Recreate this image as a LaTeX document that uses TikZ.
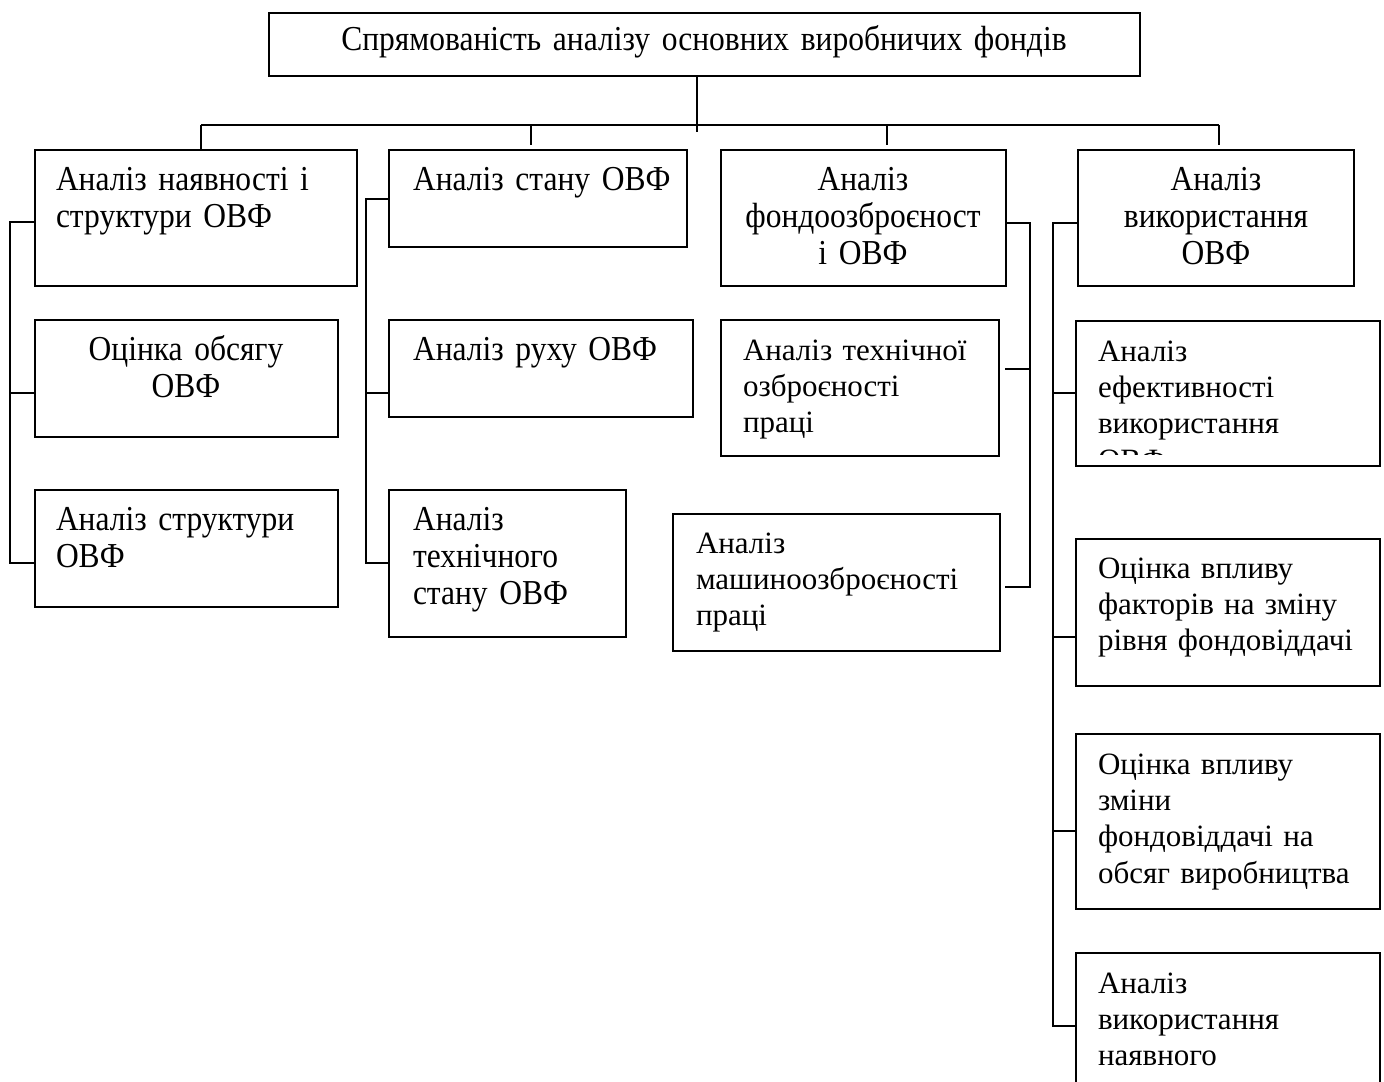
\documentclass[tikz,border=0pt]{standalone}
\usepackage{fontspec}
\setmainfont{Liberation Serif}
\newfontfamily\tallfont[FakeStretch=0.9]{Liberation Serif}
\usetikzlibrary{fit}
\tikzset{
    box/.style={draw, inner sep=0pt},
    tallleft/.style={font=\tallfont\fontsize{17.5}{18.5}\selectfont, inner sep=0pt, anchor=base west, text width=170pt, align=left},
    tallmid/.style={font=\tallfont\fontsize{17.5}{18.5}\selectfont, inner sep=0pt, anchor=base, align=center},
    plainleft/.style={font=\fontsize{15.5}{18.2}\selectfont, inner sep=0pt, anchor=base west, text width=150pt, align=left}
}
\begin{document}
\begin{tikzpicture}[x=0.5pt, y=-0.5pt, line width=1pt]
    \useasboundingbox (0,0) rectangle (1384,1081);
    \clip (0,0) rectangle (1384,1081);
    % top
    \node[box, fit={(269,13) (1140,76)}] (top) {};
    \node[tallmid, text width=430pt] (ttop) at (704,51) {Спрямованість аналізу основних виробничих фондів};
    % first column
    \node[box, fit={(35,150) (357,286)}] (b11) {};
    \node[tallleft] (t11) at (55,190) {Аналіз наявності і\\структури ОВФ};
    \node[box, fit={(35,320) (338,437)}] (b12) {};
    \node[tallmid, text width=150pt] (t12) at (186,360) {Оцінка обсягу\\ОВФ};
    \node[box, fit={(35,490) (338,607)}] (b13) {};
    \node[tallleft] (t13) at (55,530) {Аналіз структури\\ОВФ};
    % second column
    \node[box, fit={(389,150) (687,247)}] (b21) {};
    \node[tallleft] (t21) at (412,190) {Аналіз стану ОВФ};
    \node[box, fit={(389,320) (693,417)}] (b22) {};
    \node[tallleft] (t22) at (412,360) {Аналіз руху ОВФ};
    \node[box, fit={(389,490) (626,637)}] (b23) {};
    \node[tallleft] (t23) at (412,530) {Аналіз\\технічного\\стану ОВФ};
    % third column
    \node[box, fit={(721,150) (1006,286)}] (b31) {};
    \node[tallmid, text width=140pt] (t31) at (863,190) {Аналіз\\фондоозброєност\\і ОВФ};
    \node[box, fit={(721,320) (999,456)}] (b32) {};
    \node[plainleft] (t32) at (742,360) {Аналіз технічної\\озброєності\\праці};
    \node[box, fit={(673,514) (1000,651)}] (b33) {};
    \node[plainleft] (t33) at (695,553) {Аналіз\\машиноозброєності\\праці};
    % fourth column
    \node[box, fit={(1078,150) (1354,286)}] (b41) {};
    \node[tallmid, text width=136pt] (t41) at (1216,190) {Аналіз\\використання\\ОВФ};
    \node[box, fit={(1076,321) (1380,466)}] (b42) {};
    \begin{scope}
        \clip (b42.north west) rectangle ([yshift=6.5pt]b42.south east);
        \node[plainleft] (t42) at (1097,361) {Аналіз\\ефективності\\використання\\ОВФ};
    \end{scope}
    \node[box, fit={(1076,539) (1380,686)}] (b43) {};
    \node[plainleft] (t43) at (1097,578) {Оцінка впливу\\факторів на зміну\\рівня фондовіддачі};
    \node[box, fit={(1076,734) (1380,909)}] (b44) {};
    \node[plainleft] (t44) at (1097,774) {Оцінка впливу\\зміни\\фондовіддачі на\\обсяг виробництва};
    \node[box, fit={(1076,953) (1380,1100)}] (b45) {};
    \node[plainleft] (t45) at (1097,993) {Аналіз\\використання\\наявного};
    % connectors
    \coordinate (j0) at (697,132);
    \coordinate (busL) at (201,125);
    \coordinate (busR) at (1219,125);
    \draw (top.south -| j0) -- (j0);
    \draw (busL) -- (busR);
    \draw (busL) -- (b11.north -| busL);
    \foreach \n/\x in {b21/531, b31/887, b41/1219}
        \draw (\x,125) -- (\x,145);
    \draw (b11.west |- 0,222) -| (10,563) -- (b13.west |- 0,563);
    \draw (10,393) -- (b12.west |- 0,393);
    \draw (b21.west |- 0,199) -| (366,563) -- (b23.west |- 0,563);
    \draw (366,393) -- (b22.west |- 0,393);
    \draw (b31.east |- 0,223) -| (1030,587) -- (1005,587);
    \draw (1030,369) -- (1005,369);
    \draw (b41.west |- 0,223) -| (1053,1026) -- (b45.west |- 0,1026);
    \foreach \n/\y in {b42/393, b43/637, b44/831}
        \draw (1053,\y) -- (\n.west |- 0,\y);
\end{tikzpicture}
\end{document}
